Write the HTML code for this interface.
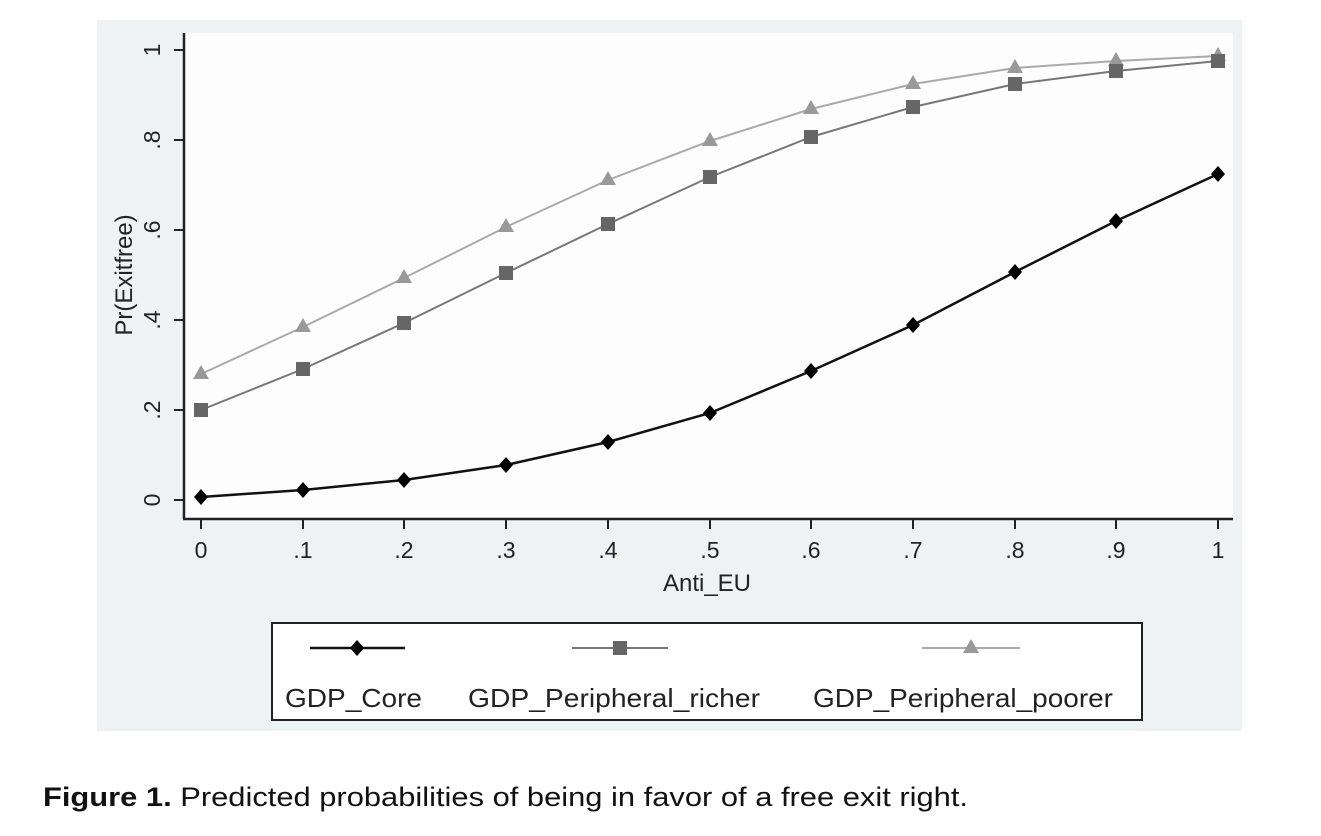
<!DOCTYPE html>
<html><head><meta charset="utf-8"><style>html,body{margin:0;padding:0;background:#fff;}svg{display:block}</style></head>
<body>
<svg width="1321" height="836" viewBox="0 0 1321 836" xmlns="http://www.w3.org/2000/svg" font-family="Liberation Sans, Arial, sans-serif">
<rect x="97" y="20" width="1145" height="711" fill="#eef2f3"/>
<rect x="184" y="33" width="1049" height="486" fill="#fdfdfd"/>
<g stroke="#222" stroke-width="2.5" fill="none">
<line x1="184" y1="33" x2="184" y2="519"/>
<line x1="183" y1="519" x2="1233" y2="519"/>
</g>
<g stroke="#222" stroke-width="2">
<line x1="174" y1="50" x2="184" y2="50"/><line x1="174" y1="140" x2="184" y2="140"/><line x1="174" y1="230" x2="184" y2="230"/><line x1="174" y1="320" x2="184" y2="320"/><line x1="174" y1="410" x2="184" y2="410"/><line x1="174" y1="500" x2="184" y2="500"/>
<line x1="201" y1="519" x2="201" y2="529"/><line x1="303" y1="519" x2="303" y2="529"/><line x1="404" y1="519" x2="404" y2="529"/><line x1="506" y1="519" x2="506" y2="529"/><line x1="608" y1="519" x2="608" y2="529"/><line x1="710" y1="519" x2="710" y2="529"/><line x1="811" y1="519" x2="811" y2="529"/><line x1="913" y1="519" x2="913" y2="529"/><line x1="1015" y1="519" x2="1015" y2="529"/><line x1="1116" y1="519" x2="1116" y2="529"/><line x1="1218" y1="519" x2="1218" y2="529"/>
</g>
<g font-size="23" fill="#222" text-anchor="middle">
<text transform="translate(160,50) rotate(-90)">1</text>
<text transform="translate(160,140) rotate(-90)">.8</text>
<text transform="translate(160,230) rotate(-90)">.6</text>
<text transform="translate(160,320) rotate(-90)">.4</text>
<text transform="translate(160,410) rotate(-90)">.2</text>
<text transform="translate(160,500) rotate(-90)">0</text>
<text x="201" y="558">0</text><text x="303" y="558">.1</text><text x="404" y="558">.2</text><text x="506" y="558">.3</text><text x="608" y="558">.4</text><text x="710" y="558">.5</text><text x="811" y="558">.6</text><text x="913" y="558">.7</text><text x="1015" y="558">.8</text><text x="1116" y="558">.9</text><text x="1218" y="558">1</text>
<text transform="translate(132,275) rotate(-90)" font-size="24">Pr(Exitfree)</text>
<text x="707" y="591" font-size="24">Anti_EU</text>
</g>
<polyline fill="none" stroke="#aaa" stroke-width="2" points="201,374 303,327 404,278 506,227 608,180 710,141 811,109 913,84 1015,68 1116,61 1218,56"/>
<polyline fill="none" stroke="#777" stroke-width="2" points="201,410 303,369 404,323 506,273 608,224 710,177 811,137 913,107 1015,84 1116,71 1218,61"/>
<polyline fill="none" stroke="#111" stroke-width="2.5" points="201,497 303,490 404,480 506,465 608,442 710,413 811,371 913,325 1015,272 1116,221 1218,174"/>
<g fill="#999">
<path d="M201,365 l8,14 h-16z"/><path d="M303,318 l8,14 h-16z"/><path d="M404,269 l8,14 h-16z"/><path d="M506,218 l8,14 h-16z"/><path d="M608,171 l8,14 h-16z"/><path d="M710,132 l8,14 h-16z"/><path d="M811,100 l8,14 h-16z"/><path d="M913,75 l8,14 h-16z"/><path d="M1015,59 l8,14 h-16z"/><path d="M1116,52 l8,14 h-16z"/><path d="M1218,47 l8,14 h-16z"/>
</g>
<g fill="#666">
<rect x="194" y="403" width="14" height="14"/><rect x="296" y="362" width="14" height="14"/><rect x="397" y="316" width="14" height="14"/><rect x="499" y="266" width="14" height="14"/><rect x="601" y="217" width="14" height="14"/><rect x="703" y="170" width="14" height="14"/><rect x="804" y="130" width="14" height="14"/><rect x="906" y="100" width="14" height="14"/><rect x="1008" y="77" width="14" height="14"/><rect x="1109" y="64" width="14" height="14"/><rect x="1211" y="54" width="14" height="14"/>
</g>
<g fill="#000">
<path d="M201,489 l7,8 l-7,8 l-7,-8z"/><path d="M303,482 l7,8 l-7,8 l-7,-8z"/><path d="M404,472 l7,8 l-7,8 l-7,-8z"/><path d="M506,457 l7,8 l-7,8 l-7,-8z"/><path d="M608,434 l7,8 l-7,8 l-7,-8z"/><path d="M710,405 l7,8 l-7,8 l-7,-8z"/><path d="M811,363 l7,8 l-7,8 l-7,-8z"/><path d="M913,317 l7,8 l-7,8 l-7,-8z"/><path d="M1015,264 l7,8 l-7,8 l-7,-8z"/><path d="M1116,213 l7,8 l-7,8 l-7,-8z"/><path d="M1218,166 l7,8 l-7,8 l-7,-8z"/>
</g>
<rect x="272" y="623" width="870" height="97" fill="#fff" stroke="#222" stroke-width="2"/>
<line x1="310" y1="648" x2="405" y2="648" stroke="#111" stroke-width="2.5"/>
<path d="M357,640 l7,8 l-7,8 l-7,-8z" fill="#000"/>
<line x1="572" y1="648" x2="668" y2="648" stroke="#777" stroke-width="2"/>
<rect x="613" y="641" width="14" height="14" fill="#666"/>
<line x1="922" y1="648" x2="1020" y2="648" stroke="#aaa" stroke-width="2"/>
<path d="M971,639 l8,14 h-16z" fill="#999"/>
<g font-size="26" fill="#222">
<text x="285" y="707" textLength="137" lengthAdjust="spacingAndGlyphs">GDP_Core</text>
<text x="468" y="707" textLength="292" lengthAdjust="spacingAndGlyphs">GDP_Peripheral_richer</text>
<text x="813" y="707" textLength="300" lengthAdjust="spacingAndGlyphs">GDP_Peripheral_poorer</text>
</g>
<text x="43" y="806" font-size="27" fill="#111" textLength="925" lengthAdjust="spacingAndGlyphs"><tspan font-weight="bold">Figure 1.</tspan> Predicted probabilities of being in favor of a free exit right.</text>
</svg>
</body></html>
